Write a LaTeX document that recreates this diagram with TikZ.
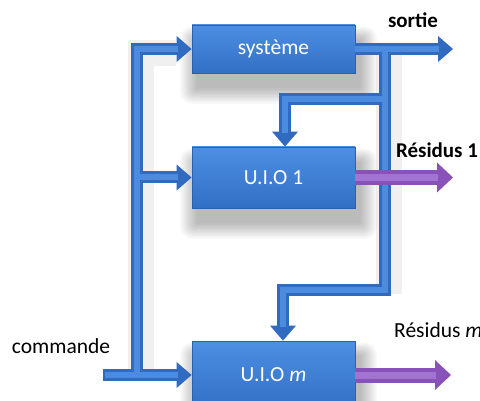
\documentclass[tikz,border=0pt]{standalone}
\usepackage{fontspec}
\setmainfont{Carlito}
\usetikzlibrary{arrows.meta,calc}
\definecolor{boxTop}{HTML}{4D8FE2}
\definecolor{boxBot}{HTML}{326FC6}
\definecolor{boxEdge}{HTML}{2B60AC}
\definecolor{pipeEdge}{HTML}{316BC0}
\definecolor{pipeFill}{HTML}{4C8CE0}
\definecolor{purEdge}{HTML}{8852B8}
\definecolor{purFill}{HTML}{A074D0}
\tikzset{
  blk/.style={rectangle, draw=boxEdge, line width=0.8pt, top color=boxTop, bottom color=boxBot,
    minimum width=163pt, text=white, font=\fontsize{21.5}{24}\selectfont},
  lbl/.style={text=black, font=\fontsize{21.5}{24}\selectfont, inner sep=0pt},
  pipe/.style={draw=pipeEdge, line width=12pt, line join=miter,
    -{Triangle[length=15pt,width=26pt,line width=0pt]}},
  pipehl/.style={draw=pipeFill, line width=6pt, line join=miter},
  pshadow/.style={draw=black, opacity=0.06, line width=26pt, line join=miter},
  ppipe/.style={draw=purEdge, line width=15pt,
    -{Triangle[length=16pt,width=30pt,line width=0pt]}},
  ppipehl/.style={draw=purFill, line width=7pt},
}
\newcommand{\softshadow}[4]{% x1 y1 x2 y2
  \foreach \k in {1,...,12}{
    \fill[black, opacity=0.022, rounded corners=\k pt]
      ($(#1,#2)+(6-\k*1.5,16-\k*1.2)$) rectangle ($(#3,#4)+(4+\k*1.5,14+\k*1.4)$);
  }}
\begin{document}
\begin{tikzpicture}[x=1pt,y=-1pt]
\useasboundingbox (0,0) rectangle (480,401);
\fill[white] (0,0) rectangle (480,401);

\softshadow{192}{25}{355}{73}
\softshadow{192}{147}{355}{208}
\softshadow{192}{341}{355}{409}

\node[blk, minimum height=48pt] (sys) at (273.5,49) {\raisebox{-6pt}{système}};
\node[blk, minimum height=61pt] (u1) at (273.5,177.5) {\raisebox{-5pt}{U.I.O 1}};
\node[blk, minimum height=68pt] (um) at (273.5,375) {U.I.O \textit{m}};

\coordinate (sysOut) at (453,49);
\coordinate (busTop) at (137,49);
\coordinate (busBot) at (137,375);
\coordinate (cmdStart) at (103,375);
\coordinate (bus1) at (137,177.5);
\coordinate (tap) at (385,49);
\coordinate (br1) at (385,99);
\coordinate (drop1) at (285,99);
\coordinate (tapBot) at (385,290);
\coordinate (dropm) at (283,290);
\coordinate (res1) at (453,177.5);
\coordinate (resm) at (451,375);

% soft shadows behind the pipes
\draw[pshadow] ($(busBot)+(4,4)$) -- ($(busTop)+(4,4)$) -- ($(sys.west)+(-16,4)$);
\draw[pshadow] ($(tap)+(4,4)$) -- ($(tapBot)+(4,4)$);

% left bus
\draw[pipe] (busBot) -- (busTop) -- (sys.west);
\draw[pipe] (bus1) -- (u1.west);
\draw[pipe] (cmdStart) -- (um.west);
\draw[pipehl] (busBot) -- (busTop) -- ($(sys.west)+(-14,0)$);
\draw[pipehl] (bus1) -- ($(u1.west)+(-14,0)$);
\draw[pipehl] ($(cmdStart)+(2,0)$) -- ($(um.west)+(-14,0)$);

% output and feedback
\draw[pipe] (sys.east) -- (sysOut);
\draw[pipe] (br1) -- (drop1) -- (drop1 |- u1.north);
\draw[pipe] (tap) -- (tapBot) -- (dropm) -- (dropm |- um.north);
\draw[pipehl] (sys.east) -- ($(sysOut)+(-14,0)$);
\draw[pipehl] (br1) -- (drop1) -- ($(drop1 |- u1.north)+(0,-14)$);
\draw[pipehl] (tap) -- (tapBot) -- (dropm) -- ($(dropm |- um.north)+(0,-14)$);

% residuals
\draw[ppipe] (u1.east) -- (res1);
\draw[ppipe] (um.east) -- (resm);
\draw[ppipehl] (u1.east) -- ($(res1)+(-15,0)$);
\draw[ppipehl] (um.east) -- ($(resm)+(-15,0)$);

% labels
\node[lbl, font=\fontsize{21}{24}\selectfont\bfseries] (lsortie) at (413,20) {sortie};
\node[lbl, font=\fontsize{21}{24}\selectfont\bfseries] (lres1) at (437,150) {Résidus 1};
\node[lbl] (lcmd) at (61,346) {commande};
\node[lbl, anchor=west] (lresm) at (394,330) {Résidus \textit{m}};
\end{tikzpicture}
\end{document}
